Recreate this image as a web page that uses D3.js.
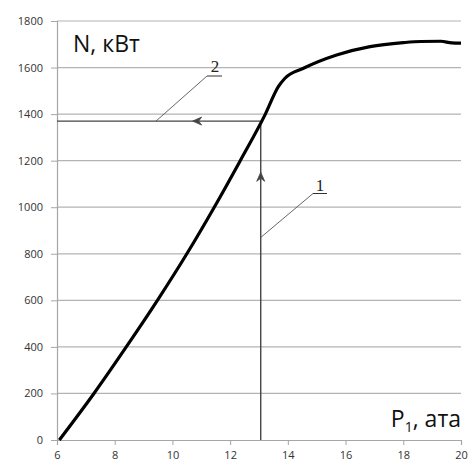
<!DOCTYPE html>
<html><head><meta charset="utf-8">
<script src="https://cdn.jsdelivr.net/npm/d3@7"></script>
<style>html,body{margin:0;padding:0;background:#fff;}</style>
</head><body>
<script>
// Data
const pressure = [6.08, 7.28, 8.40, 9.48, 10.50, 11.45, 12.35, 13.22, 13.67, 13.9, 14.54, 15.69, 16.85, 18.0, 18.6, 19.3, 19.68, 20.0];
const power    = [0, 200, 400, 600, 800, 1000, 1200, 1400, 1518, 1554, 1597, 1654, 1690, 1707, 1712, 1713, 1706, 1705];
const xTicks = [6, 8, 10, 12, 14, 16, 18, 20];
const yTicks = [0, 200, 400, 600, 800, 1000, 1200, 1400, 1600, 1800];
const operatingP = [13.06];
const operatingN = [1370];
const arrowUpN = [1150];
const arrowLeftP = [10.7];
const labels = ["1", "2"];
const yTitle = "N, кВт";
const xTitle = ["P", "1", ", ата"];

const W = 475, H = 465;
const svg = d3.select("body").append("svg").attr("width", W).attr("height", H)
  .style("font-family", "'Open Sans', 'DejaVu Sans', sans-serif");

const x = d3.scaleLinear().domain([6, 20]).range([57, 461]);
const y = d3.scaleLinear().domain([0, 1800]).range([440, 21]);

// grid
svg.append("g").selectAll("line").data(yTicks.filter(d => d > 0)).join("line")
  .attr("x1", x(6)).attr("x2", x(20)).attr("y1", d => y(d)).attr("y2", d => y(d))
  .attr("stroke", "#b3b3b3").attr("stroke-width", 1.2);

// y axis
const ya = svg.append("g").attr("transform", `translate(${x(6)},0)`)
  .call(d3.axisLeft(y).tickValues(yTicks).tickSize(6).tickPadding(8).tickFormat(d3.format("d")));
ya.select(".domain").attr("stroke", "#a6a6a6").attr("stroke-width", 1.2);
ya.selectAll(".tick line").attr("stroke", "#a6a6a6");
ya.selectAll("text").attr("font-size", 11).attr("fill", "#333").attr("font-family", "'Open Sans', sans-serif");

// x axis
const xa = svg.append("g").attr("transform", `translate(0,${y(0)})`)
  .call(d3.axisBottom(x).tickValues(xTicks).tickSize(5).tickPadding(6).tickFormat(d3.format("d")));
xa.select(".domain").attr("stroke", "#a6a6a6").attr("stroke-width", 1.2);
xa.selectAll(".tick line").attr("stroke", "#a6a6a6");
xa.selectAll("text").attr("font-size", 11).attr("fill", "#333").attr("font-family", "'Open Sans', sans-serif");

// operating lines
const px = x(operatingP[0]), py = y(operatingN[0]);
const lc = "#444";
svg.append("line").attr("x1", px).attr("x2", px).attr("y1", y(0)).attr("y2", py)
  .attr("stroke", lc).attr("stroke-width", 1.4);
svg.append("line").attr("x1", x(6)).attr("x2", px).attr("y1", py).attr("y2", py)
  .attr("stroke", lc).attr("stroke-width", 1.4);
// arrowheads
const ay = y(arrowUpN[0]);
svg.append("path").attr("d", `M${px - 4},${ay + 9} L${px},${ay} L${px + 4},${ay + 9} L${px},${ay + 6} Z`)
  .attr("fill", lc).attr("stroke", lc).attr("stroke-width", 0.8);
const ax = x(arrowLeftP[0]);
svg.append("path").attr("d", `M${ax + 9},${py - 4} L${ax},${py} L${ax + 9},${py + 4} L${ax + 6},${py} Z`)
  .attr("fill", lc).attr("stroke", lc).attr("stroke-width", 0.8);

// curve
const line = d3.line().x((d, i) => x(pressure[i])).y(d => y(d)).curve(d3.curveMonotoneX);
svg.append("path").datum(power).attr("d", line).attr("fill", "none")
  .attr("stroke", "#000").attr("stroke-width", 3.2).attr("stroke-linejoin", "round");

// leader 1
const l1x = px, l1y = y(870);
svg.append("line").attr("x1", l1x).attr("y1", l1y).attr("x2", 313).attr("y2", 193.5)
  .attr("stroke", "#555").attr("stroke-width", 0.9);
svg.append("line").attr("x1", 313).attr("y1", 193.5).attr("x2", 327).attr("y2", 193.5)
  .attr("stroke", "#333").attr("stroke-width", 1);
svg.append("text").attr("x", 320).attr("y", 191).attr("text-anchor", "middle")
  .attr("font-family", "'Liberation Serif', serif").attr("font-size", 17).attr("fill", "#222").text(labels[0]);

// leader 2
svg.append("line").attr("x1", 156).attr("y1", py).attr("x2", 207).attr("y2", 76)
  .attr("stroke", "#555").attr("stroke-width", 0.9);
svg.append("line").attr("x1", 207).attr("y1", 76).attr("x2", 222).attr("y2", 76)
  .attr("stroke", "#333").attr("stroke-width", 1);
svg.append("text").attr("x", 215).attr("y", 72).attr("text-anchor", "middle")
  .attr("font-family", "'Liberation Serif', serif").attr("font-size", 17).attr("fill", "#222").text(labels[1]);

// titles
svg.append("text").attr("x", 73).attr("y", 52).attr("font-size", 23).attr("fill", "#111")
  .attr("font-family", "'Open Sans', sans-serif").text(yTitle);
const xt = svg.append("text").attr("x", 461).attr("y", 427).attr("text-anchor", "end")
  .attr("font-size", 23).attr("fill", "#111").attr("font-family", "'Open Sans', sans-serif");
xt.append("tspan").text(xTitle[0]);
xt.append("tspan").attr("font-size", 14).attr("dy", 5).text(xTitle[1]);
xt.append("tspan").attr("dy", -5).text(xTitle[2]);
</script>
</body></html>
